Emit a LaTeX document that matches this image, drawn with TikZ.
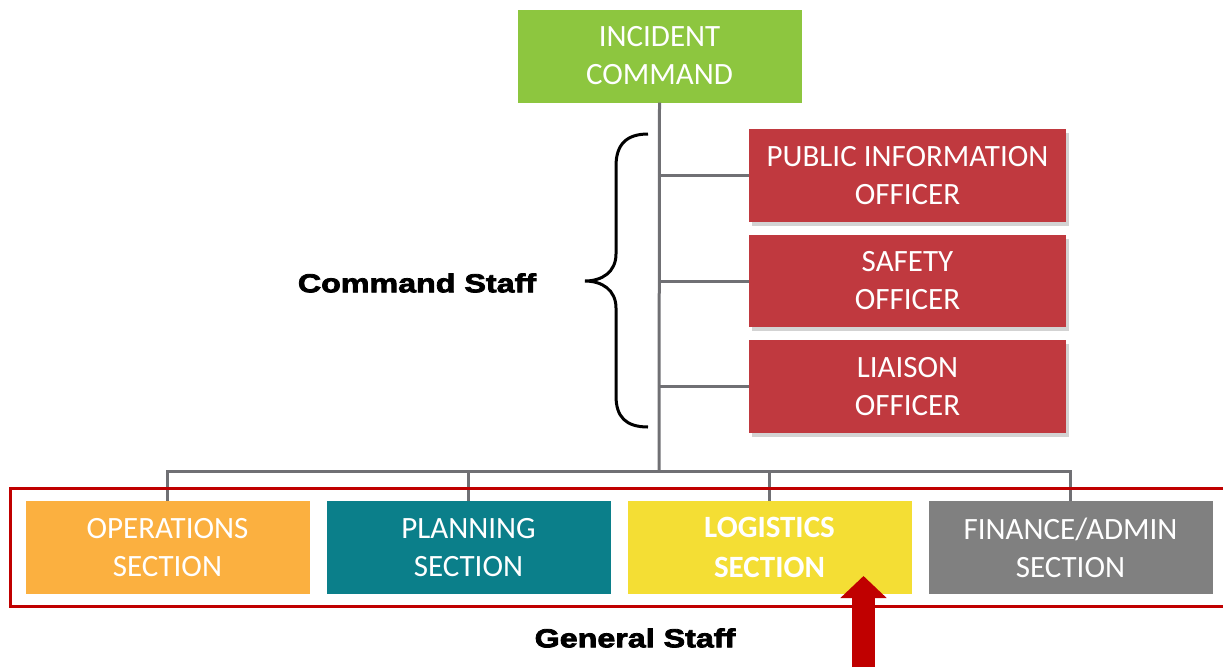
\documentclass[tikz,border=0pt]{standalone}
\usepackage{fontspec}
\setmainfont{Carlito}
\newfontfamily\stafffont[FakeStretch=1.24,FakeBold=3]{Liberation Sans Bold}
\usetikzlibrary{shadows,arrows.meta}
\definecolor{icgreen}{RGB}{141,198,63}
\definecolor{cmdred}{RGB}{192,57,63}
\definecolor{opsorange}{RGB}{251,176,64}
\definecolor{planteal}{RGB}{11,127,138}
\definecolor{logyellow}{RGB}{244,222,52}
\definecolor{fingray}{RGB}{128,128,128}
\definecolor{linegray}{RGB}{112,112,116}
\definecolor{framered}{RGB}{192,0,0}
\begin{document}
\begin{tikzpicture}[x=1pt,y=-1pt,
	box/.style={minimum width=284pt,minimum height=93pt,inner sep=0pt,align=center,
		text=white,font=\fontsize{31}{38}\selectfont},
	cmdbox/.style={box,fill=cmdred,minimum width=317pt,
		drop shadow={shadow xshift=3pt,shadow yshift=-4pt,opacity=0.35}},
	link/.style={draw=linegray,line width=3pt},
	stafflabel/.style={font=\stafffont\fontsize{26}{30}\selectfont}]
	\useasboundingbox (0,0) rectangle (1223,667);
	% top of the tree
	\node[box,fill=icgreen] (ic) at (659.5,56) {INCIDENT\\COMMAND};
	\node[cmdbox] (pio) at (907.5,175.5) {PUBLIC INFORMATION\\OFFICER};
	\node[cmdbox,minimum height=92pt] (safety) at (907.5,281) {SAFETY\\OFFICER};
	\node[cmdbox] (liaison) at (907.5,386.5) {LIAISON\\OFFICER};
	% general staff
	\node[box,fill=opsorange] (ops) at (167.5,547.5) {OPERATIONS\\SECTION};
	\node[box,fill=planteal] (plan) at (468.5,547.5) {PLANNING\\SECTION};
	\node[box,fill=logyellow,font=\bfseries\fontsize{31}{40}\selectfont] (log) at (769.5,547.5) {LOGISTICS\\SECTION};
	\node[box,fill=fingray] (fin) at (1070.5,547.5) {FINANCE/ADMIN\\SECTION};
	\coordinate (hub) at (659,471);
	\draw[link] (ic.south) -- (hub);
	\draw[link] (ops.north) |- (hub) -| (fin.north);
	\draw[link] (plan.north) -- (plan.north |- hub);
	\draw[link] (log.north) -- (log.north |- hub);
	\draw[link] (ic.south |- pio.west) -- (pio.west);
	\draw[link] (ic.south |- safety.west) -- (safety.west);
	\draw[link] (ic.south |- liaison.west) -- (liaison.west);
	% frame, brace, arrow
	\draw[framered,line width=3pt] (1223,488) -- (10,488) -- (10,606) -- (1223,606);
	\draw[line width=3pt] (648,134) .. controls (626,134) and (616,145) .. (616,166) -- (616,254)
		.. controls (616,272) and (602,281) .. (585,281) .. controls (602,281) and (616,290) .. (616,308)
		-- (616,396) .. controls (616,417) and (626,427) .. (648,427);
	\node[stafflabel] (cmdstaff) at (417,283) {Command Staff};
	\node[stafflabel] (genstaff) at (635,638) {General Staff};
	\coordinate (arrowfoot) at (863.5,667);
	\coordinate (arrowtip) at (863.5,576);
	\draw[framered,line width=23pt,-{Triangle[width=45pt,length=22pt]}] (arrowfoot) -- (arrowtip);
\end{tikzpicture}
\end{document}
